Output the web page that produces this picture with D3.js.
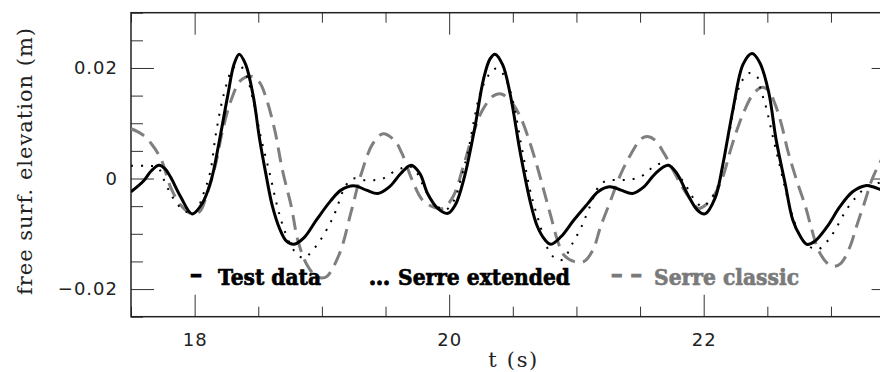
<!DOCTYPE html>
<html>
<head>
<meta charset="utf-8">
<script src="https://cdn.jsdelivr.net/npm/d3@7"></script>
<style>
    body { margin: 0; background: #fff; }
    svg { display: block; }
</style>
</head>
<body>
<svg id="chart" width="880" height="372"></svg>
<script>
// time (s) and free surface elevation (m)
const testT = [17.50,17.60,17.66,17.72,17.77,17.81,17.89,17.98,18.06,18.13,18.19,18.26,18.31,18.35,18.40,18.46,18.51,18.56,18.61,18.67,18.72,18.78,18.86,18.96,19.07,19.15,19.25,19.35,19.44,19.53,19.62,19.70,19.77,19.83,19.91,19.99,20.05,20.12,20.20,20.27,20.32,20.36,20.42,20.48,20.56,20.64,20.69,20.75,20.80,20.88,20.98,21.09,21.17,21.26,21.35,21.44,21.53,21.62,21.72,21.79,21.87,21.95,22.01,22.09,22.15,22.23,22.31,22.38,22.44,22.51,22.57,22.64,22.70,22.76,22.81,22.87,22.97,23.07,23.17,23.27,23.33,23.40,23.50]
const testEta = [-0.0024,-0.0004,0.0014,0.0024,0.0017,0.0003,-0.0033,-0.0064,-0.0045,-0.0003,0.0063,0.0150,0.0207,0.0225,0.0207,0.0150,0.0072,0.0008,-0.0049,-0.0092,-0.0113,-0.0119,-0.0107,-0.0074,-0.0040,-0.0021,-0.0013,-0.0021,-0.0027,-0.0015,0.0009,0.0024,0.0009,-0.0027,-0.0054,-0.0063,-0.0047,0.0003,0.0090,0.0180,0.0216,0.0225,0.0206,0.0152,0.0045,-0.0045,-0.0085,-0.0110,-0.0119,-0.0105,-0.0075,-0.0045,-0.0024,-0.0015,-0.0021,-0.0027,-0.0015,0.0009,0.0024,0.0009,-0.0027,-0.0057,-0.0064,-0.0035,0.0025,0.0125,0.0207,0.0226,0.0210,0.0157,0.0069,-0.0009,-0.0075,-0.0105,-0.0119,-0.0114,-0.0087,-0.0051,-0.0024,-0.0013,-0.0015,-0.0021,-0.0028]

const extT = [17.50,17.62,17.71,17.76,17.81,17.87,17.93,18.01,18.06,18.12,18.17,18.23,18.30,18.35,18.40,18.46,18.52,18.59,18.65,18.70,18.76,18.81,18.86,18.93,18.99,19.09,19.19,19.25,19.33,19.41,19.48,19.54,19.62,19.69,19.75,19.80,19.86,19.91,19.97,20.04,20.09,20.15,20.20,20.25,20.32,20.37,20.43,20.50,20.56,20.63,20.67,20.71,20.77,20.83,20.89,20.97,21.04,21.10,21.19,21.27,21.35,21.41,21.48,21.55,21.60,21.66,21.73,21.78,21.85,21.93,21.99,22.04,22.10,22.14,22.17,22.21,22.26,22.31,22.36,22.42,22.45,22.49,22.55,22.60,22.65,22.70,22.76,22.83,22.90,22.98,23.04,23.12,23.20,23.28,23.36,23.43,23.50]
const extEta = [0.0023,0.0023,0.0020,-0.0003,-0.0027,-0.0048,-0.0060,-0.0060,-0.0033,0.0009,0.0085,0.0153,0.0199,0.0205,0.0190,0.0141,0.0075,0.0009,-0.0051,-0.0090,-0.0123,-0.0138,-0.0144,-0.0129,-0.0111,-0.0069,-0.0012,0.0000,-0.0003,-0.0003,0.0000,0.0009,0.0018,0.0022,0.0009,-0.0015,-0.0039,-0.0051,-0.0057,-0.0039,-0.0003,0.0051,0.0111,0.0159,0.0190,0.0199,0.0187,0.0141,0.0069,-0.0015,-0.0051,-0.0081,-0.0125,-0.0144,-0.0147,-0.0117,-0.0087,-0.0054,-0.0010,-0.0003,-0.0003,-0.0002,0.0001,0.0010,0.0021,0.0027,0.0024,0.0012,-0.0009,-0.0039,-0.0051,-0.0042,-0.0020,0.0010,0.0050,0.0093,0.0153,0.0180,0.0191,0.0184,0.0159,0.0129,0.0069,0.0021,-0.0027,-0.0069,-0.0105,-0.0123,-0.0128,-0.0111,-0.0090,-0.0057,-0.0033,-0.0015,-0.0009,-0.0005,0.0000]

const classicT = [17.50,17.58,17.66,17.74,17.81,17.89,17.97,18.04,18.09,18.16,18.22,18.29,18.36,18.44,18.51,18.56,18.63,18.69,18.76,18.81,18.88,18.95,19.00,19.04,19.14,19.23,19.31,19.40,19.48,19.57,19.63,19.71,19.79,19.87,19.95,20.03,20.11,20.18,20.26,20.35,20.41,20.49,20.56,20.63,20.70,20.75,20.80,20.85,20.90,20.98,21.06,21.13,21.19,21.27,21.35,21.43,21.51,21.56,21.62,21.69,21.76,21.83,21.90,21.96,22.03,22.09,22.15,22.21,22.26,22.32,22.39,22.46,22.51,22.56,22.61,22.66,22.73,22.80,22.85,22.90,22.97,23.02,23.08,23.15,23.20,23.27,23.32,23.38,23.45,23.50]
const classicEta = [0.0090,0.0081,0.0063,0.0033,-0.0015,-0.0048,-0.0063,-0.0060,-0.0033,0.0021,0.0087,0.0144,0.0177,0.0185,0.0174,0.0147,0.0087,0.0015,-0.0051,-0.0111,-0.0155,-0.0176,-0.0180,-0.0177,-0.0135,-0.0060,0.0009,0.0063,0.0081,0.0069,0.0045,-0.0003,-0.0039,-0.0051,-0.0054,-0.0033,0.0021,0.0075,0.0123,0.0150,0.0153,0.0138,0.0111,0.0068,0.0015,-0.0027,-0.0069,-0.0111,-0.0138,-0.0150,-0.0150,-0.0129,-0.0087,-0.0039,0.0009,0.0045,0.0072,0.0076,0.0069,0.0045,0.0015,-0.0015,-0.0039,-0.0054,-0.0045,-0.0027,0.0003,0.0051,0.0087,0.0123,0.0153,0.0165,0.0159,0.0135,0.0099,0.0051,-0.0003,-0.0051,-0.0093,-0.0129,-0.0153,-0.0159,-0.0153,-0.0123,-0.0087,-0.0039,-0.0003,0.0027,0.0055,0.0072]

const xMajor = [18, 20, 22]
const xMinor = [17.5, 18.5, 19, 19.5, 20.5, 21, 21.5, 22.5, 23, 23.5]
const yMajor = [-0.02, 0, 0.02]
const yMinor = [-0.025, -0.015, -0.01, -0.005, 0.005, 0.01, 0.015, 0.025, 0.03]

const seriesNames = ["Test data", "Serre extended", "Serre classic"]

// plot box, the right edge runs past the window like in the original
const boxLeft = 131, boxTop = 12.7, boxRight = 894.6, boxBottom = 316.7
const svg = d3.select("#chart")

const x = d3.scaleLinear().domain([17.5, 23.5]).range([boxLeft, boxRight])
const y = d3.scaleLinear().domain([-0.025, 0.03]).range([boxBottom, boxTop])

const fmtY = (d) => d === 0 ? "0" : d3.format(".2f")(d).replace("-", "\u2212")

function styleAxis(g) {
    g.select(".domain").remove()
    g.selectAll(".tick line").attr("stroke", "#333").attr("stroke-width", 1)
    g.selectAll("text")
        .attr("fill", "#222")
        .style("font-family", "DejaVu Sans")
        .style("font-size", "18px")
        .style("letter-spacing", "1px")
}

// bottom
svg.append("g").attr("transform", `translate(0,${boxBottom})`)
    .call(d3.axisBottom(x).tickValues(xMinor).tickSize(-10).tickFormat(""))
    .call(styleAxis)
svg.append("g").attr("transform", `translate(0,${boxBottom})`)
    .call(d3.axisBottom(x).tickValues(xMajor).tickSize(-22).tickPadding(17).tickFormat(d3.format("d")))
    .call(styleAxis)
// top
svg.append("g").attr("transform", `translate(0,${boxTop})`)
    .call(d3.axisTop(x).tickValues(xMinor).tickSize(-10).tickFormat(""))
    .call(styleAxis)
svg.append("g").attr("transform", `translate(0,${boxTop})`)
    .call(d3.axisTop(x).tickValues(xMajor).tickSize(-22).tickFormat(""))
    .call(styleAxis)
// left
svg.append("g").attr("transform", `translate(${boxLeft},0)`)
    .call(d3.axisLeft(y).tickValues(yMinor).tickSize(-12).tickFormat(""))
    .call(styleAxis)
svg.append("g").attr("transform", `translate(${boxLeft},0)`)
    .call(d3.axisLeft(y).tickValues(yMajor).tickSize(-23).tickPadding(13).tickFormat(fmtY))
    .call(styleAxis)
// right
svg.append("g").attr("transform", `translate(${boxRight},0)`)
    .call(d3.axisRight(y).tickValues(yMinor).tickSize(-12).tickFormat(""))
    .call(styleAxis)
svg.append("g").attr("transform", `translate(${boxRight},0)`)
    .call(d3.axisRight(y).tickValues(yMajor).tickSize(-23).tickFormat(""))
    .call(styleAxis)

svg.append("rect")
    .attr("x", boxLeft).attr("y", boxTop)
    .attr("width", boxRight - boxLeft).attr("height", boxBottom - boxTop)
    .attr("fill", "none")
    .attr("stroke", "#222")
    .attr("stroke-width", 1.5)

svg.append("clipPath").attr("id", "plotclip")
    .append("rect")
    .attr("x", boxLeft).attr("y", boxTop)
    .attr("width", boxRight - boxLeft).attr("height", boxBottom - boxTop)

const line = d3.line()
    .x((d) => x(d[0]))
    .y((d) => y(d[1]))
    .curve(d3.curveCatmullRom.alpha(0.5))

const curves = svg.append("g").attr("clip-path", "url(#plotclip)")

curves.append("path")
    .datum(d3.zip(classicT, classicEta))
    .attr("d", line)
    .attr("fill", "none")
    .attr("stroke", "#7f7f7f")
    .attr("stroke-width", 3)
    .attr("stroke-dasharray", "15 8")

curves.append("path")
    .datum(d3.zip(extT, extEta))
    .attr("d", line)
    .attr("fill", "none")
    .attr("stroke", "#000")
    .attr("stroke-width", 2)
    .attr("stroke-dasharray", "2 8")

curves.append("path")
    .datum(d3.zip(testT, testEta))
    .attr("d", line)
    .attr("fill", "none")
    .attr("stroke", "#000")
    .attr("stroke-width", 3)
    .attr("stroke-linejoin", "round")

// axis titles
svg.append("text")
    .attr("transform", "translate(32,161.5) rotate(-90)")
    .attr("text-anchor", "middle")
    .attr("textLength", 267)
    .attr("lengthAdjust", "spacing")
    .style("font-family", "DejaVu Serif")
    .style("font-size", "21px")
    .attr("fill", "#222")
    .text("free surf. elevation (m)")

svg.append("text")
    .attr("x", (boxLeft + boxRight) / 2)
    .attr("y", 367)
    .attr("text-anchor", "middle")
    .attr("textLength", 49)
    .attr("lengthAdjust", "spacing")
    .style("font-family", "DejaVu Serif")
    .style("font-size", "21px")
    .attr("fill", "#222")
    .text("t (s)")

// legend, written as labels on the plot
const legendItems = [
    {mark: "\u2013", mx: 190, mw: 12, dy: -3, label: seriesNames[0], lx: 218, lw: 103, color: "#000"},
    {mark: "...", mx: 369, mw: 21, dy: 0, label: seriesNames[1], lx: 398, lw: 172, color: "#000"},
    {mark: "\u2013 \u2013", mx: 611, mw: 31, dy: -3, label: seriesNames[2], lx: 654, lw: 145, color: "#7a7a7a"}
]
const lg = svg.append("g")
    .style("font-family", "DejaVu Serif")
    .style("font-weight", "bold")
    .style("font-size", "23px")
lg.selectAll(".legMark")
    .data(legendItems)
    .enter()
    .append("text")
    .attr("class", "legMark")
    .attr("x", (d) => d.mx)
    .attr("y", 285)
    .attr("dy", (d) => d.dy)
    .attr("textLength", (d) => d.mw)
    .attr("lengthAdjust", "spacingAndGlyphs")
    .attr("fill", (d) => d.color)
    .attr("stroke", (d) => d.color)
    .attr("stroke-width", 1.2)
    .text((d) => d.mark)
lg.selectAll(".legLabel")
    .data(legendItems)
    .enter()
    .append("text")
    .attr("class", "legLabel")
    .attr("x", (d) => d.lx)
    .attr("y", 285)
    .attr("textLength", (d) => d.lw)
    .attr("lengthAdjust", "spacingAndGlyphs")
    .attr("fill", (d) => d.color)
    .attr("stroke", (d) => d.color)
    .attr("stroke-width", 0.7)
    .text((d) => d.label)
</script>
</body>
</html>
